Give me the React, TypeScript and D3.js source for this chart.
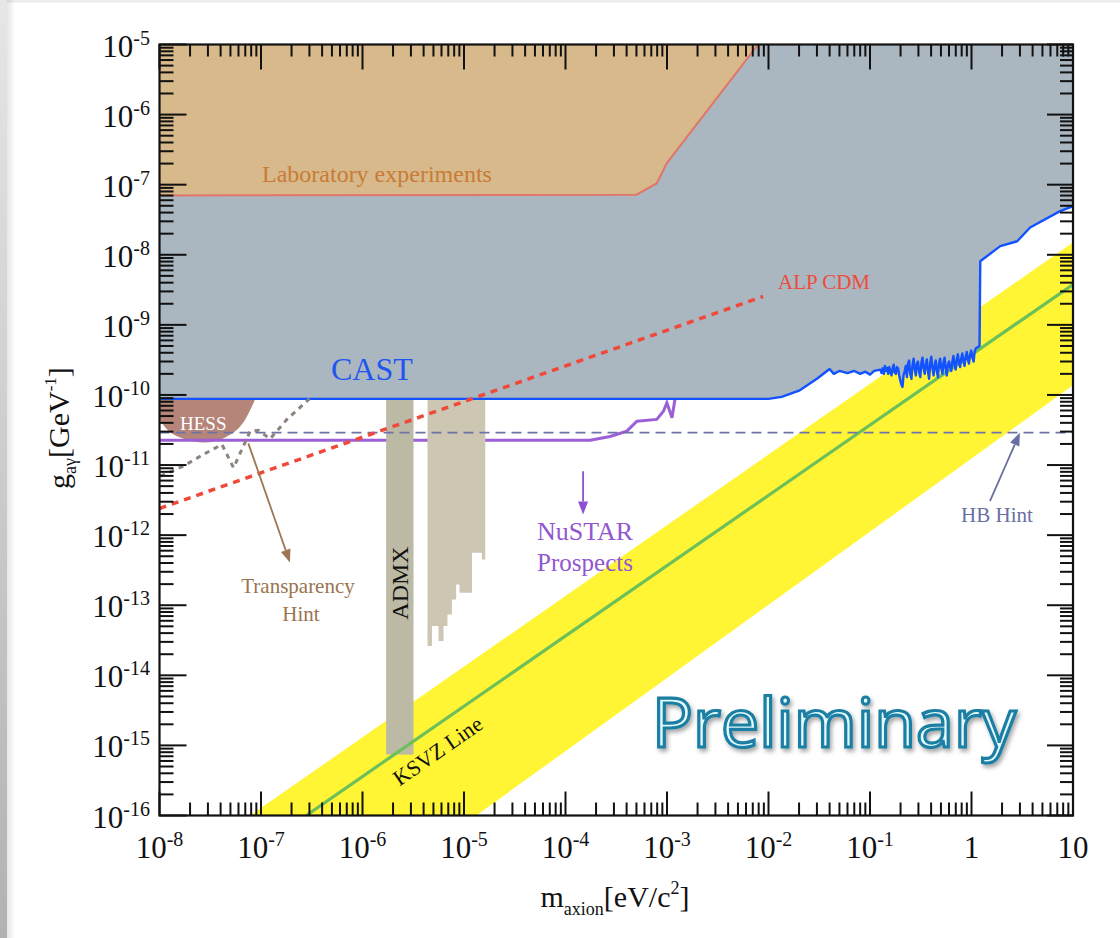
import React from "react";
import * as d3 from "d3";

type Pt = [number, number];

const WIDTH = 1120;
const HEIGHT = 938;
const PLOT = { left: 159.5, right: 1073, top: 44.5, bottom: 815.5 };
const SERIF = '"Liberation Serif", "Times New Roman", serif';

// Axis decades and their labels (base, exponent)
const massDecades = [1e-8, 1e-7, 1e-6, 1e-5, 1e-4, 1e-3, 1e-2, 1e-1, 1, 10];
const massTickLabels: [string, string][] = [
  ["10", "-8"], ["10", "-7"], ["10", "-6"], ["10", "-5"], ["10", "-4"],
  ["10", "-3"], ["10", "-2"], ["10", "-1"], ["1", ""], ["10", ""],
];
const couplingDecades = [1e-16, 1e-15, 1e-14, 1e-13, 1e-12, 1e-11, 1e-10, 1e-9, 1e-8, 1e-7, 1e-6, 1e-5];
const couplingTickLabels: [string, string][] = [
  ["10", "-16"], ["10", "-15"], ["10", "-14"], ["10", "-13"], ["10", "-12"], ["10", "-11"],
  ["10", "-10"], ["10", "-9"], ["10", "-8"], ["10", "-7"], ["10", "-6"], ["10", "-5"],
];
const minorSteps = [2, 3, 4, 5, 6, 7, 8, 9];

// [axion mass (eV), coupling (GeV^-1)]
const labExperiments: Pt[] = [
  [1e-8, 7.0e-8], [5.0e-4, 7.2e-8], [7.9e-4, 1.04e-7], [1.0e-3, 2.05e-7], [7.9e-3, 1e-5],
];

const castLimit: Pt[] = [
  [1e-8, 8.8e-11], [1.0e-2, 8.8e-11], [1.35e-2, 9.4e-11], [2.0e-2, 1.15e-10], [3.0e-2, 1.7e-10],
  [4.0e-2, 2.35e-10], [4.4e-2, 2.0e-10], [5.0e-2, 2.2e-10], [6.0e-2, 2.05e-10], [7.0e-2, 2.2e-10],
  [8.0e-2, 2.0e-10], [9.0e-2, 2.15e-10], [0.1, 1.95e-10], [0.11, 2.2e-10],
  [0.126, 2.3e-10], [0.13, 2.05e-10], [0.133, 2.4e-10], [0.137, 2.0e-10], [0.14, 2.6e-10],
  [0.144, 2.2e-10], [0.147, 2.45e-10], [0.151, 2.0e-10], [0.155, 2.5e-10], [0.159, 2.1e-10],
  [0.163, 1.9e-10], [0.167, 2.4e-10], [0.171, 2.7e-10], [0.175, 2.1e-10], [0.18, 2.0e-10],
  [0.184, 2.5e-10], [0.189, 2.4e-10], [0.194, 1.9e-10], [0.199, 1.6e-10], [0.204, 1.4e-10],
  [0.209, 1.3e-10], [0.214, 1.9e-10], [0.22, 2.2e-10], [0.225, 2.6e-10], [0.231, 1.8e-10],
  [0.237, 2.8e-10], [0.243, 3.1e-10], [0.249, 2.0e-10], [0.256, 1.7e-10], [0.262, 2.6e-10],
  [0.269, 3.3e-10], [0.276, 2.3e-10], [0.283, 1.9e-10], [0.29, 2.8e-10], [0.297, 3.0e-10],
  [0.305, 2.1e-10], [0.313, 1.8e-10], [0.321, 2.9e-10], [0.329, 3.4e-10], [0.337, 2.4e-10],
  [0.346, 2.0e-10], [0.354, 2.7e-10], [0.363, 3.2e-10], [0.372, 2.2e-10], [0.382, 1.7e-10],
  [0.392, 2.9e-10], [0.402, 3.5e-10], [0.412, 2.4e-10], [0.423, 1.9e-10], [0.433, 2.6e-10],
  [0.444, 3.1e-10], [0.455, 2.2e-10], [0.467, 1.8e-10], [0.479, 2.8e-10], [0.491, 3.3e-10],
  [0.504, 2.4e-10], [0.517, 2.0e-10], [0.53, 2.9e-10], [0.543, 3.4e-10], [0.557, 2.3e-10],
  [0.571, 1.9e-10], [0.586, 2.7e-10], [0.601, 3.0e-10], [0.616, 2.5e-10], [0.632, 2.2e-10],
  [0.648, 3.0e-10], [0.664, 3.6e-10], [0.681, 2.7e-10], [0.698, 2.3e-10], [0.716, 3.2e-10],
  [0.734, 3.8e-10], [0.753, 2.9e-10], [0.772, 2.5e-10], [0.792, 3.3e-10], [0.812, 3.9e-10],
  [0.833, 3.0e-10], [0.854, 2.6e-10], [0.876, 3.5e-10], [0.898, 4.1e-10], [0.921, 3.2e-10],
  [0.944, 2.8e-10], [0.968, 3.7e-10], [0.993, 4.3e-10], [1.02, 3.4e-10], [1.05, 3.0e-10],
  [1.07, 4.0e-10], [1.1, 4.6e-10],
  [1.2, 5.0e-10], [1.22, 8.1e-9], [1.92, 1.33e-8], [2.82, 1.56e-8], [3.78, 2.45e-8],
  [7.46, 4.19e-8], [10, 4.93e-8],
];

// HESS excluded bowl: lower edge, left to right (top is the CAST limit)
const hessLowerEdge: Pt[] = [
  [1e-8, 4.48e-11], [1.14e-8, 3.44e-11], [1.6e-8, 2.48e-11], [2.82e-8, 2.1e-11],
  [5.0e-8, 2.73e-11], [7.0e-8, 4.48e-11], [8.8e-8, 8.8e-11],
];
const hessTop = 8.8e-11;

const nustarProspects: Pt[] = [
  [1e-8, 2.26e-11], [1.75e-4, 2.26e-11], [2.75e-4, 2.56e-11], [4.02e-4, 3.05e-11],
  [5.05e-4, 4.23e-11], [7.94e-4, 4.48e-11], [9.25e-4, 5.89e-11], [9.97e-4, 7.74e-11],
  [1.12e-3, 4.73e-11], [1.2e-3, 8.8e-11],
];

const transparencyHint: Pt[] = [
  [1.02e-8, 6.95e-12], [1.72e-8, 9.65e-12], [2.71e-8, 1.42e-11], [4.12e-8, 1.97e-11],
  [5.36e-8, 9.15e-12], [7.83e-8, 3.05e-11], [9.45e-8, 3.12e-11], [1.23e-7, 2.37e-11],
  [1.8e-7, 4.48e-11], [3.0e-7, 8.8e-11],
];

const alpCdm: Pt[] = [[1e-8, 2.4e-12], [8.85e-3, 2.54e-9]];
const hbHint = 2.9e-11;

// ADMX: main band [mLow, mHigh, gLow], top bounded by CAST
const admxBand: [number, number, number] = [1.71e-6, 3.18e-6, 7.4e-16];
// ADMX extended scan: step edges [mStart, gLow]; last entry closes the final step
const admxSteps: Pt[] = [
  [4.37e-6, 2.61e-14], [4.83e-6, 5.04e-14], [5.61e-6, 3.08e-14], [6.28e-6, 5.04e-14],
  [6.87e-6, 7.4e-14], [7.6e-6, 1.21e-13], [8.37e-6, 1.98e-13], [9.03e-6, 1.51e-13],
  [1.2e-5, 5.61e-13], [1.5e-5, 4.5e-13], [1.62e-5, 4.5e-13],
];
const admxTop = 8.8e-11;

// KSVZ model line and band edges
const ksvzLine: Pt[] = [[2.79e-7, 1e-16], [10, 3.77e-9]];
const ksvzBandUpper: Pt[] = [[7.83e-8, 1e-16], [10, 1.5e-8]];
const ksvzBandLower: Pt[] = [[1.32e-5, 1e-16], [10, 1.37e-10]];

// Annotation arrows [from, to]
const transparencyArrow: [Pt, Pt] = [[7.5e-8, 2.04e-11], [1.93e-7, 4.07e-13]];
const nustarArrow: [Pt, Pt] = [[1.49e-4, 8.17e-12], [1.49e-4, 1.97e-12]];
const hbArrow: [Pt, Pt] = [[1.52, 3.05e-12], [3.0, 2.9e-11]];

const x = d3.scaleLog().domain([1e-8, 10]).range([PLOT.left, PLOT.right]);
const y = d3.scaleLog().domain([1e-16, 1e-5]).range([PLOT.bottom, PLOT.top]);

const line = d3.line<Pt>().x((d) => x(d[0])).y((d) => y(d[1]));

function Arrow({ from, to, color, width = 1.8, head = 13 }: { from: Pt; to: Pt; color: string; width?: number; head?: number }) {
  const x1 = x(from[0]), y1 = y(from[1]);
  const x2 = x(to[0]), y2 = y(to[1]);
  const a = Math.atan2(y2 - y1, x2 - x1);
  const bx = x2 - head * Math.cos(a), by = y2 - head * Math.sin(a);
  const hw = 5;
  const px = -Math.sin(a) * hw, py = Math.cos(a) * hw;
  return (
    <g>
      <line x1={x1} y1={y1} x2={bx} y2={by} stroke={color} strokeWidth={width} />
      <path d={`M${x2},${y2}L${bx + px},${by + py}L${bx - px},${by - py}Z`} fill={color} />
    </g>
  );
}

export default function App() {
  const castArea =
    line(castLimit)! + `L${x(10)},${y(1e-5)}L${x(1e-8)},${y(1e-5)}Z`;
  const labArea = line(labExperiments)! + `L${x(1e-8)},${y(1e-5)}Z`;
  const hessLine = d3.line<Pt>().x((d) => x(d[0])).y((d) => y(d[1])).curve(d3.curveMonotoneX);
  const hessArea = hessLine(hessLowerEdge)! + `L${x(1e-8)},${y(hessTop)}Z`;
  const bandArea =
    line(ksvzBandUpper)! +
    `L${x(ksvzBandLower[1][0])},${y(ksvzBandLower[1][1])}L${x(ksvzBandLower[0][0])},${y(ksvzBandLower[0][1])}Z`;

  const stepLine = d3.line<Pt>().x((d) => x(d[0])).y((d) => y(d[1])).curve(d3.curveStepAfter);
  const admxStepPath =
    `M${x(admxSteps[0][0])},${y(admxTop)}` +
    stepLine(admxSteps)!.replace(/^M/, "L") +
    `L${x(admxSteps[admxSteps.length - 1][0])},${y(admxTop)}Z`;

  const ticks: React.ReactNode[] = [];
  const tk = { stroke: "#111", strokeWidth: 2 };
  massDecades.forEach((d, i) => {
    const px = x(d);
    ticks.push(<line key={`bM${i}`} x1={px} x2={px} y1={PLOT.bottom} y2={PLOT.bottom - 24} {...tk} />);
    ticks.push(<line key={`tM${i}`} x1={px} x2={px} y1={PLOT.top} y2={PLOT.top + 25} {...tk} />);
    if (i < massDecades.length - 1) {
      minorSteps.forEach((k) => {
        const pm = x(d * k);
        ticks.push(<line key={`bm${i}-${k}`} x1={pm} x2={pm} y1={PLOT.bottom} y2={PLOT.bottom - 13} {...tk} />);
        ticks.push(<line key={`tm${i}-${k}`} x1={pm} x2={pm} y1={PLOT.top} y2={PLOT.top + 12} {...tk} />);
      });
    }
  });
  couplingDecades.forEach((d, i) => {
    const py = y(d);
    ticks.push(<line key={`lM${i}`} x1={PLOT.left} x2={PLOT.left + 27} y1={py} y2={py} {...tk} />);
    ticks.push(<line key={`rM${i}`} x1={PLOT.right} x2={PLOT.right - 26} y1={py} y2={py} {...tk} />);
    if (i < couplingDecades.length - 1) {
      minorSteps.forEach((k) => {
        const pm = y(d * k);
        ticks.push(<line key={`lm${i}-${k}`} x1={PLOT.left} x2={PLOT.left + 14} y1={pm} y2={pm} {...tk} />);
        ticks.push(<line key={`rm${i}-${k}`} x1={PLOT.right} x2={PLOT.right - 13} y1={pm} y2={pm} {...tk} />);
      });
    }
  });

  return (
    <svg
      width={WIDTH}
      height={HEIGHT}
      viewBox={`0 0 ${WIDTH} ${HEIGHT}`}
      style={{ position: "absolute", left: 0, top: 0, display: "block", background: "#fff" }}
      fontFamily={SERIF}
    >
      <defs>
        <clipPath id="plot-area">
          <rect x={PLOT.left} y={PLOT.top} width={PLOT.right - PLOT.left} height={PLOT.bottom - PLOT.top} />
        </clipPath>
        <linearGradient id="edge-v" x1="0" y1="0" x2="0" y2="1">
          <stop offset="0" stopColor="#e6e6e6" />
          <stop offset="1" stopColor="#b2b2b2" />
        </linearGradient>
        <linearGradient id="edge-h" x1="0" y1="0" x2="1" y2="0">
          <stop offset="0" stopColor="#000" stopOpacity="0.1" />
          <stop offset="1" stopColor="#000" stopOpacity="0" />
        </linearGradient>
        <filter id="prelim-shadow" x="-10%" y="-30%" width="125%" height="170%">
          <feDropShadow dx="2" dy="3" stdDeviation="2" floodColor="#000" floodOpacity="0.35" />
        </filter>
      </defs>

      {/* slide background */}
      <rect x={0} y={0} width={WIDTH} height={HEIGHT} fill="#fff" />
      <rect x={0} y={0} width={WIDTH} height={2.5} fill="#ececec" />
      <rect x={0} y={0} width={7} height={HEIGHT} fill="url(#edge-v)" />
      <rect x={7} y={0} width={8} height={HEIGHT} fill="url(#edge-h)" />

      <g clipPath="url(#plot-area)">
        {/* KSVZ band */}
        <path d={bandArea} fill="#fff535" />
        {/* CAST excluded region */}
        <path d={castArea} fill="#aab6c0" />
        {/* laboratory experiments */}
        <path d={labArea} fill="#d7b98b" />
        <path d={line(labExperiments)!} fill="none" stroke="#e2756a" strokeWidth={2} />
        {/* HESS */}
        <path d={hessArea} fill="#b5857a" />
        {/* NuSTAR prospects */}
        <path d={line(nustarProspects)!} fill="none" stroke="#9d5fd6" strokeWidth={3} />
        {/* ADMX */}
        <rect
          x={x(admxBand[0])}
          y={y(admxTop)}
          width={x(admxBand[1]) - x(admxBand[0])}
          height={y(admxBand[2]) - y(admxTop)}
          fill="#bcb9a5"
        />
        <path d={admxStepPath} fill="#cdc6b2" />
        {/* KSVZ line */}
        <path d={line(ksvzLine)!} fill="none" stroke="#6dbf5a" strokeWidth={3.2} />
        {/* CAST limit */}
        <path d={line(castLimit)!} fill="none" stroke="#1252ff" strokeWidth={2.4} strokeLinejoin="round" />
        {/* HB hint */}
        <line x1={PLOT.left} x2={PLOT.right} y1={y(hbHint)} y2={y(hbHint)} stroke="#6e73a6" strokeWidth={1.6} strokeDasharray="10 6" />
        {/* transparency hint */}
        <path d={line(transparencyHint)!} fill="none" stroke="#8e847d" strokeWidth={3} strokeDasharray="5 5" />
        {/* ALP cold dark matter */}
        <path d={line(alpCdm)!} fill="none" stroke="#f0493a" strokeWidth={3.5} strokeDasharray="7 6" />
      </g>

      {/* annotations */}
      <Arrow from={transparencyArrow[0]} to={transparencyArrow[1]} color="#9d7752" />
      <Arrow from={nustarArrow[0]} to={nustarArrow[1]} color="#8e50d2" />
      <Arrow from={hbArrow[0]} to={hbArrow[1]} color="#6a6fa3" />

      <text x={262} y={182} fontSize={24} fill="#c97b35">Laboratory experiments</text>
      <text x={331} y={380} fontSize={32} fill="#1f55f0">CAST</text>
      <text x={180} y={430} fontSize={19} fill="#fff">HESS</text>
      <text x={824} y={289} fontSize={21} fill="#ef4b3b" textAnchor="middle">ALP CDM</text>
      <text x={298} y={593} fontSize={21} fill="#9b7350" textAnchor="middle">Transparency</text>
      <text x={301} y={621} fontSize={21} fill="#9b7350" textAnchor="middle">Hint</text>
      <text x={585} y={540} fontSize={26} fill="#9257d0" textAnchor="middle">NuSTAR</text>
      <text x={585} y={571} fontSize={25} fill="#9257d0" textAnchor="middle">Prospects</text>
      <text x={997} y={522} fontSize={21} fill="#6a6fa3" textAnchor="middle">HB Hint</text>
      <text transform="translate(408,583) rotate(-90)" fontSize={24} fill="#111" textAnchor="middle">ADMX</text>
      <text transform="translate(442,757) rotate(-34.8)" fontSize={22} fill="#111" textAnchor="middle">KSVZ Line</text>

      {/* axes */}
      {ticks}
      <rect
        x={PLOT.left}
        y={PLOT.top}
        width={PLOT.right - PLOT.left}
        height={PLOT.bottom - PLOT.top}
        fill="none"
        stroke="#111"
        strokeWidth={2.2}
      />

      {massDecades.map((d, i) => (
        <text key={`xl${i}`} x={x(d)} y={858} fontSize={31} fill="#111" textAnchor="middle">
          {massTickLabels[i][0]}
          {massTickLabels[i][1] && (
            <tspan fontSize={20} dy={-12}>{massTickLabels[i][1]}</tspan>
          )}
        </text>
      ))}
      {couplingDecades.map((d, i) => (
        <text key={`yl${i}`} x={150} y={y(d) + 12} fontSize={31} fill="#111" textAnchor="end">
          {couplingTickLabels[i][0]}
          <tspan fontSize={20} dy={-12}>{couplingTickLabels[i][1]}</tspan>
        </text>
      ))}

      <text x={615} y={907} fontSize={30} fill="#111" textAnchor="middle">
        m<tspan fontSize={18} dy={8}>axion</tspan>
        <tspan dy={-8}>[eV/c</tspan>
        <tspan fontSize={18} dy={-13}>2</tspan>
        <tspan dy={13}>]</tspan>
      </text>
      <text transform="translate(69,428) rotate(-90)" fontSize={30} fill="#111" textAnchor="middle">
        g<tspan fontSize={18} dy={7}>aγ</tspan>
        <tspan dy={-7}>[GeV</tspan>
        <tspan fontSize={17} dy={-13}>-1</tspan>
        <tspan dy={13}>]</tspan>
      </text>

      <text
        x={652}
        y={747}
        fontSize={68}
        fontFamily='"Open Sans", "Noto Sans", sans-serif'
        fill="#e3fbff"
        stroke="#1a7ea3"
        strokeWidth={3.2}
        textLength={364}
        filter="url(#prelim-shadow)"
      >
        Preliminary
      </text>
    </svg>
  );
}
